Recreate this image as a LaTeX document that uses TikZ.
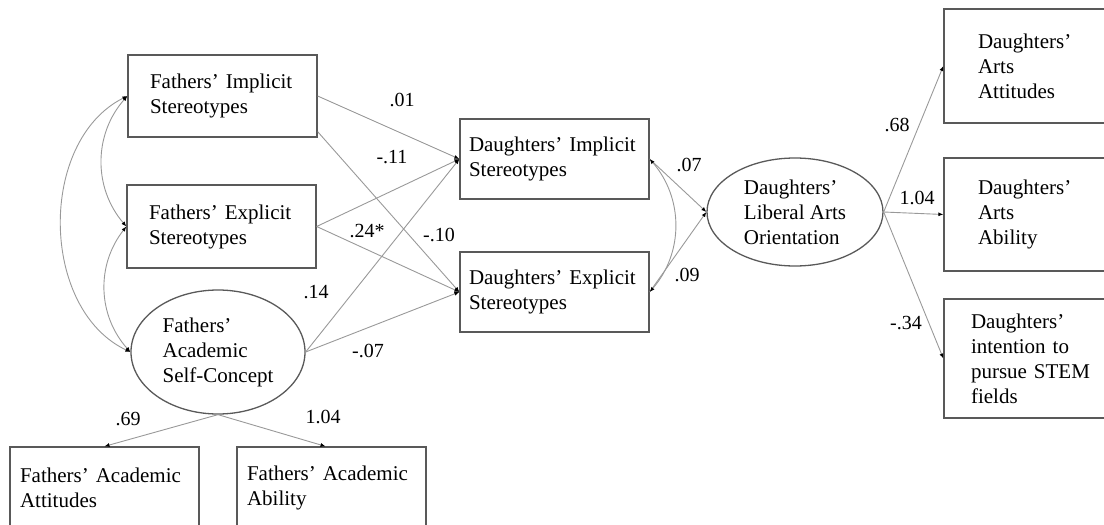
\documentclass[tikz,border=0pt]{standalone}
\usepackage{fontspec}
\setmainfont{Liberation Serif}
\usetikzlibrary{shapes.geometric,arrows.meta}

\begin{document}
\begin{tikzpicture}[x=1pt,y=-1pt,
    var/.style={draw=black!65, line width=1.3pt, rectangle, align=left, text=black, font=\fontsize{21}{25}\selectfont},
    latent/.style={draw=black!65, line width=1.3pt, ellipse, inner sep=0pt, align=left, text=black, font=\fontsize{21}{25}\selectfont},
    coef/.style={inner sep=1pt, text=black, font=\fontsize{20}{24}\selectfont},
    reg/.style={draw=black!40, line width=0.9pt, -{Latex[length=5pt,width=4pt,color=black]}},
    cov/.style={draw=black!40, line width=0.9pt, {Latex[length=5pt,width=4pt,color=black]}-{Latex[length=5pt,width=4pt,color=black]}}]
    \useasboundingbox (0,0) rectangle (1104,525);
    \clip (0,0) rectangle (1104,525);
    % fathers
    \node[var, text width=145pt, inner xsep=22pt, minimum height=82pt] (FI) at (222.5,96) {Fathers’ Implicit\\Stereotypes};
    \node[var, text width=145pt, inner xsep=22pt, minimum height=83pt] (FE) at (221.5,226.5) {Fathers’ Explicit\\Stereotypes};
    \node[latent, minimum width=174pt, minimum height=124pt] (FAS) at (218,352) {Fathers’\\Academic\\Self-Concept};
    \node[var, text width=169pt, inner xsep=10pt, minimum height=82pt] (FAA) at (104.5,488) {Fathers’ Academic\\Attitudes};
    \node[var, text width=169pt, inner xsep=10pt, minimum height=82pt] (FAB) at (331.5,488) {Fathers’ Academic\\Ability};
    % daughters
    \node[var, text width=171pt, inner xsep=9pt, minimum height=80pt] (DI) at (554.5,159) {Daughters’ Implicit\\Stereotypes};
    \node[var, text width=171pt, inner xsep=9pt, minimum height=80pt] (DE) at (554.5,292) {Daughters’ Explicit\\Stereotypes};
    \node[latent, minimum width=176pt, minimum height=108pt] (DLA) at (795,212) {Daughters’\\Liberal Arts\\Orientation};
    \node[var, text width=121pt, inner xsep=34pt, minimum height=114pt] (AA) at (1038.5,66) {Daughters’\\Arts\\Attitudes};
    \node[var, text width=121pt, inner xsep=34pt, minimum height=113pt] (AB) at (1038.5,214.5) {Daughters’\\Arts\\Ability};
    \node[var, text width=135pt, inner xsep=27pt, minimum height=119pt] (ST) at (1038.5,358.5) {Daughters’\\intention to\\pursue STEM\\fields};
    % paths
    \draw[reg] (FI.east) -- (DI.west);
    \draw[reg] ([yshift=6pt]FI.south east) -- (DE.west);
    \draw[reg] (FE.east) -- (DI.west);
    \draw[reg] (FE.east) -- (DE.west);
    \draw[reg] (FAS.east) -- (DI.west);
    \draw[reg] (FAS.east) -- (DE.west);
    \draw[reg] (FAS.south) -- (FAA.north);
    \draw[reg] (FAS.south) -- ([xshift=-6pt]FAB.north);
    \draw[reg] (DI.east) -- (DLA.west);
    \draw[reg] (DE.east) -- (DLA.west);
    \draw[reg] (DLA.east) -- (AA.west);
    \draw[reg] (DLA.east) -- (AB.west);
    \draw[reg] (DLA.east) -- (ST.west);
    % covariances
    \draw[cov] (FI.west) to[bend right=41] (FE.west);
    \draw[cov] (FE.west) to[bend right=40] (FAS.west);
    \draw[cov] (FI.west) to[bend right=64] (FAS.west);
    \draw[cov] (DI.east) to[bend left=41] (DE.east);
    % coefficients
    \node[coef] (c1) at (402,100) {.01};
    \node[coef] (c2) at (392,157) {-.11};
    \node[coef] (c3) at (367,231) {.24*};
    \node[coef] (c4) at (439,235) {-.10};
    \node[coef] (c5) at (316,292) {.14};
    \node[coef] (c6) at (368,351) {-.07};
    \node[coef] (c7) at (128,419) {.69};
    \node[coef] (c8) at (323,417) {1.04};
    \node[coef] (c9) at (689,165) {.07};
    \node[coef] (c10) at (687,275) {.09};
    \node[coef] (c11) at (897,125) {.68};
    \node[coef] (c12) at (917,198) {1.04};
    \node[coef] (c13) at (906,323) {-.34};
\end{tikzpicture}
\end{document}
